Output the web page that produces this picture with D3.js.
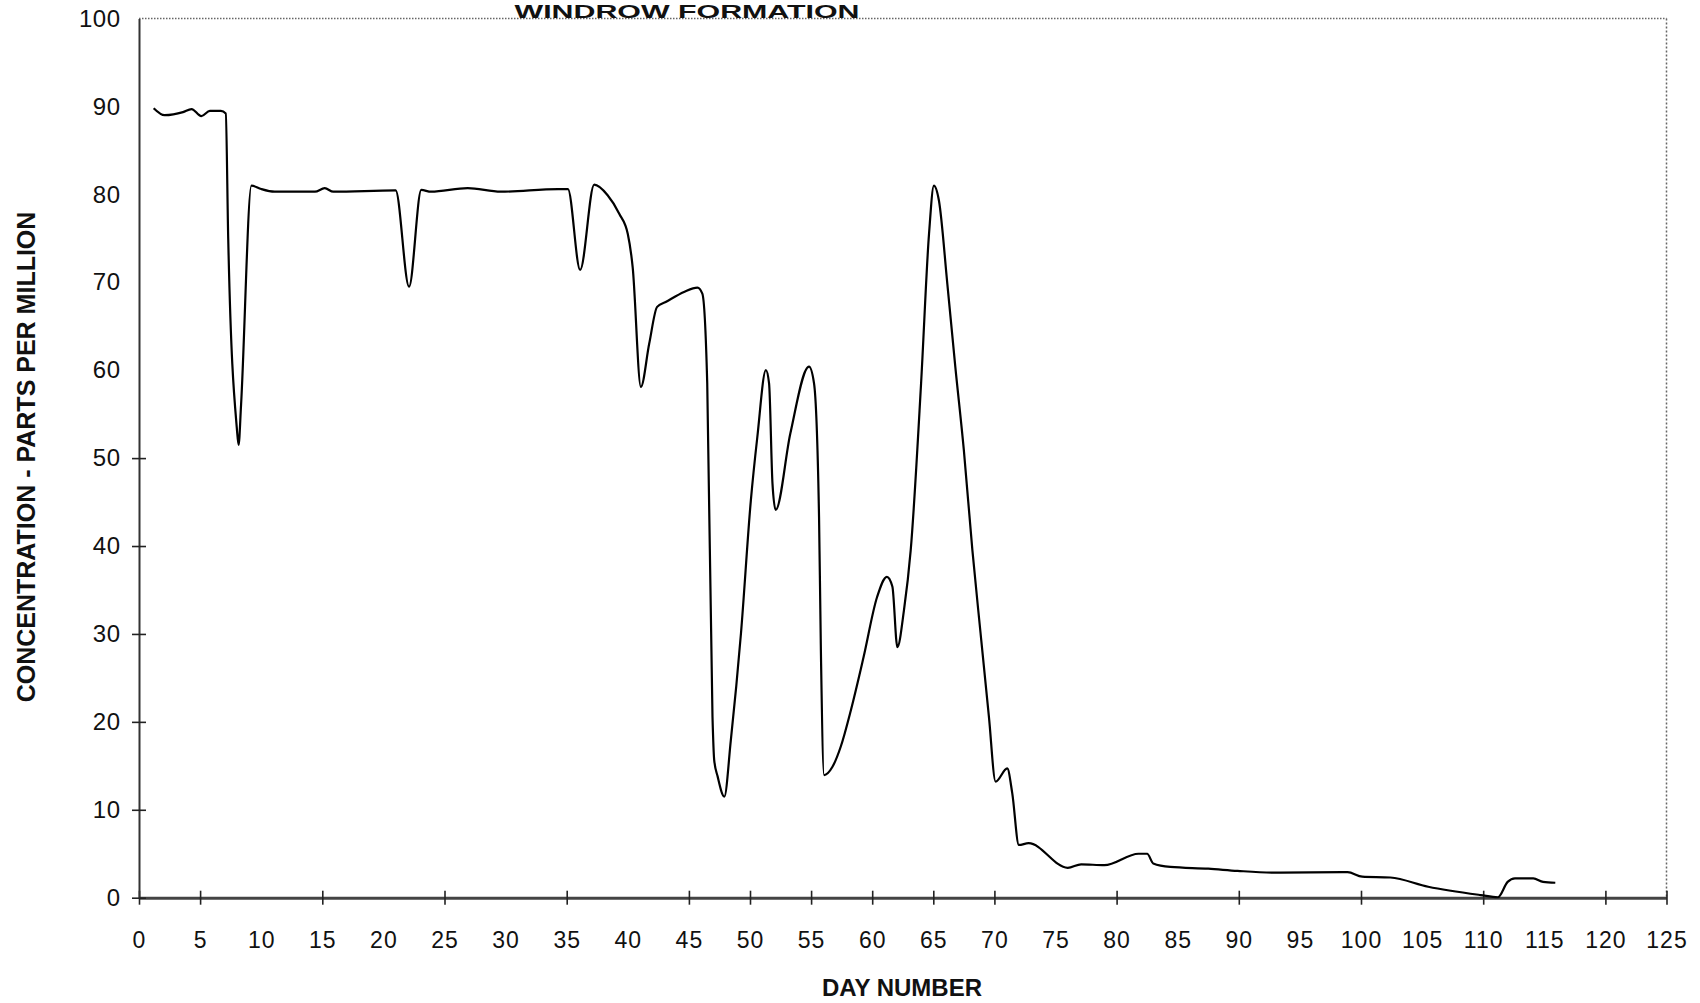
<!DOCTYPE html>
<html>
<head>
<meta charset="utf-8">
<script src="https://cdn.jsdelivr.net/npm/d3@7"></script>
<style>
  html, body { margin: 0; padding: 0; background: #fff; }
  svg { display: block; }
  text { font-family: "Liberation Sans", Arial, sans-serif; fill: #111; }
</style>
</head>
<body>
<script>
// ---- data ----
const days = [1.2, 2.1, 3.6, 4.3, 5.1, 5.8, 6.7, 7.1, 7.3, 8.0, 8.15, 8.35, 9.2, 10, 11.1, 14.4, 15.2, 15.9, 21.0, 22.1, 23.1, 23.9, 26.9, 29.6, 34.3, 35.1, 36.1, 37.25, 38.35, 39.3, 40.0, 40.4, 41.07, 41.75, 42.4, 43.1, 44.6, 45.7, 46.1, 46.5, 46.93, 47.07, 47.35, 47.9, 48.43, 49.26, 50.07, 50.6, 51.3, 51.56, 51.84, 52.1, 53.3, 54.83, 55.24, 55.65, 55.8, 56.06, 56.75, 57.43, 58.25, 59.3, 60.4, 61.2, 61.65, 62.06, 62.6, 63.15, 64.0, 64.65, 65.05, 65.46, 66.15, 66.8, 67.5, 68.2, 68.87, 69.55, 70.1, 71.05, 71.46, 72.0, 72.8, 76.0, 77.1, 79.0, 81.8, 82.5, 83.0, 84.4, 87.5, 89.9, 93.0, 98.9, 100.1, 102.4, 105.5, 109.8, 111.2, 112.0, 112.6, 114.1, 114.9, 115.9];
const ppm = [89.8, 89.0, 89.35, 89.7, 88.9, 89.5, 89.5, 89.2, 75, 53.5, 51.5, 56, 81.0, 80.6, 80.3, 80.3, 80.7, 80.3, 80.45, 69.5, 80.5, 80.3, 80.7, 80.3, 80.6, 80.6, 71.4, 81.1, 79.9, 77.8, 75.5, 71.7, 58.1, 63.0, 67.2, 67.75, 68.9, 69.4, 68.7, 58.5, 20.6, 15.65, 13.8, 11.5, 17.9, 30.05, 45.2, 52.4, 60.0, 58.5, 47.1, 44.1, 52.8, 60.4, 58.5, 43.3, 28.2, 13.95, 14.9, 17.2, 21.3, 27.4, 34.2, 36.5, 35.4, 28.5, 32.7, 39.5, 58.5, 75.5, 81.0, 79.3, 69.8, 60.4, 50.9, 39.5, 30.05, 20.6, 13.2, 14.7, 11.9, 6.0, 6.2, 3.4, 3.8, 3.7, 5.0, 5.0, 3.9, 3.5, 3.3, 3.05, 2.85, 2.9, 2.4, 2.3, 1.25, 0.3, 0.05, 1.8, 2.2, 2.2, 1.8, 1.7];

const xTickLabels = d3.range(0, 126, 5);
const xTickMarks = [0, 5, 15, 25, 35, 45, 50, 55, 60, 65, 70, 80, 90, 100, 110, 120, 125];
const yTickLabels = d3.range(0, 101, 10);
const yTickMarks = [0, 10, 20, 30, 40, 50];

const chartTitle = "WINDROW FORMATION";
const xTitle = "DAY NUMBER";
const yTitle = "CONCENTRATION - PARTS PER MILLION";

// ---- layout ----
const W = 1700, H = 1003;
const mLeft = 139, mRight = 1666.5, mTop = 18.5, mBottom = 897.7;

const svg = d3.select("body").append("svg").attr("width", W).attr("height", H);

const x = d3.scaleLinear().domain([0, 125]).range([mLeft, mRight]);
const y = d3.scaleLinear().domain([0, 100]).range([mBottom, mTop]);

// dotted top and right borders
svg.append("line").attr("x1", mLeft).attr("x2", mRight).attr("y1", mTop).attr("y2", mTop)
  .attr("stroke", "#666").attr("stroke-width", 1.5).attr("stroke-dasharray", "1.5,1.5");
svg.append("line").attr("x1", mRight).attr("x2", mRight).attr("y1", mTop).attr("y2", mBottom)
  .attr("stroke", "#666").attr("stroke-width", 1.5).attr("stroke-dasharray", "2,2");

// title
svg.append("text").attr("x", 687).attr("y", 18).attr("text-anchor", "middle")
  .attr("textLength", 345).attr("lengthAdjust", "spacingAndGlyphs")
  .style("font-size", "19px").style("font-weight", "bold").text(chartTitle);

// x axis labels
const xLab = svg.append("g").attr("transform", `translate(0,${mBottom})`)
  .call(d3.axisBottom(x).tickValues(xTickLabels).tickSize(0).tickPadding(34).tickFormat(d3.format("d")));
xLab.select(".domain").remove();
xLab.selectAll("text").style("font-size", "23px").style("letter-spacing", "1px")
  .style("font-family", "Liberation Sans, Arial, sans-serif").attr("fill", "#111");

// x axis line + ticks
const xAx = svg.append("g").attr("transform", `translate(0,${mBottom})`)
  .call(d3.axisBottom(x).tickValues(xTickMarks).tickSize(7).tickSizeOuter(0).tickFormat(""));
xAx.select(".domain").attr("stroke", "#444").attr("stroke-width", 3);
xAx.selectAll(".tick line").attr("y1", -7).attr("y2", 7).attr("stroke", "#222").attr("stroke-width", 1.6);

// y axis labels
const yLab = svg.append("g").attr("transform", `translate(${mLeft},0)`)
  .call(d3.axisLeft(y).tickValues(yTickLabels).tickSize(0).tickPadding(18.5));
yLab.select(".domain").remove();
yLab.selectAll("text").style("font-size", "24px").style("letter-spacing", "0.5px")
  .style("font-family", "Liberation Sans, Arial, sans-serif").attr("fill", "#111");

// y axis line + ticks
const yAx = svg.append("g").attr("transform", `translate(${mLeft},0)`)
  .call(d3.axisLeft(y).tickValues(yTickMarks).tickSize(7).tickSizeOuter(0).tickFormat(""));
yAx.select(".domain").attr("stroke", "#333").attr("stroke-width", 2);
yAx.selectAll(".tick line").attr("x1", -7).attr("x2", 7).attr("stroke", "#222").attr("stroke-width", 1.6);

// axis titles
svg.append("text").attr("x", 902).attr("y", 996).attr("text-anchor", "middle")
  .style("font-size", "24px").style("font-weight", "bold").text(xTitle);
svg.append("text").attr("transform", "translate(26,457) rotate(-90)").attr("text-anchor", "middle")
  .attr("dy", "0.36em").style("font-size", "25px").style("font-weight", "bold").text(yTitle);

// data line
const data = days.map((d, i) => ({ d, v: ppm[i] }));
svg.append("path").datum(data)
  .attr("fill", "none").attr("stroke", "#000").attr("stroke-width", 2.2)
  .attr("stroke-linejoin", "round")
  .attr("d", d3.line().x(p => x(p.d)).y(p => y(p.v)).curve(d3.curveMonotoneX));
</script>
</body>
</html>
